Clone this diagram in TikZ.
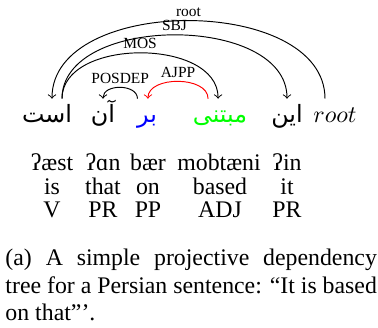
\documentclass[tikz,border=0pt]{standalone}
\usepackage{fontspec}
\setmainfont{Liberation Serif}
\newfontfamily\farsifont[Script=Arabic]{DejaVu Sans}
\TeXXeTstate=1
\usetikzlibrary{arrows}

\tikzset{
    word/.style={anchor=base, inner sep=0pt, text height=10pt, text depth=3pt, font=\farsifont\fontsize{10}{12}\selectfont},
    gloss/.style={anchor=base, inner sep=0pt, font=\fontsize{10}{10}\selectfont},
    rel/.style={midway, above, inner sep=1.5pt, font=\fontsize{6.5}{7}\selectfont},
}

\begin{document}
\begin{tikzpicture}[x=0.42pt, y=-0.42pt]
    \useasboundingbox (0,0) rectangle (378,328);

    % the words of the sentence (right to left)
    \node[word] (est) at (47,123) {\beginR است\endR};
    \node[word] (an) at (103,123) {\beginR آن\endR};
    \node[word, text=blue] (bar) at (147,123) {\beginR بر\endR};
    \node[word, text=green] (mobtani) at (220,123) {\beginR مبتنی\endR};
    \node[word] (in) at (287,123) {\beginR این\endR};
    \node[word, font=\fontsize{10}{12}\selectfont] (root) at (335,123) {$root$};

    % transliteration, gloss and tag of each word
    \node[gloss] (t1) at (52,171) {ʔæst};
    \node[gloss] (t2) at (103,171) {ʔɑn};
    \node[gloss] (t3) at (148,171) {bær};
    \node[gloss] (t4) at (219,171) {mobtæni};
    \node[gloss] (t5) at (287,171) {ʔin};
    %
    \node[gloss] (g1) at (52,195) {is};
    \node[gloss] (g2) at (103,195) {that};
    \node[gloss] (g3) at (148,195) {on};
    \node[gloss] (g4) at (220,195) {based};
    \node[gloss] (g5) at (287,195) {it};
    %
    \node[gloss] (p1) at (52,218) {V};
    \node[gloss] (p2) at (103,218) {PR};
    \node[gloss] (p3) at (148,218) {PP};
    \node[gloss] (p4) at (220,218) {ADJ};
    \node[gloss] (p5) at (287,218) {PR};

    % draw the arcs
    \draw[->] ([xshift=-4.2pt]root.north) .. controls +(0,-104) and +(0,-104) .. ([xshift=2.1pt]est.north) node[rel] {root};
    \draw[->] ([xshift=6.3pt]est.north) .. controls +(0,-85) and +(0,-85) .. (in.north) node[rel] {SBJ};
    \draw[->] ([xshift=6.3pt]est.north) .. controls +(0,-61) and +(0,-61) .. ([xshift=-0.8pt]mobtani.north) node[rel] {MOS};
    \draw[->] ([xshift=-4pt]bar.north) .. controls +(0,-15) and +(0,-15) .. (an.north) node[rel] {POSDEP};
    \draw[->, red] ([xshift=-5pt]mobtani.north) .. controls +(0,-23) and +(0,-23) .. ([xshift=0.4pt]bar.north) node[rel, text=black] {AJPP};

    % the caption
    \node[anchor=base west, inner sep=0pt, text width=156pt, align=justify, font=\fontsize{10}{11.5}\selectfont] (cap) at (5,266)
        {(a) A simple projective dependency\linebreak tree for a Persian sentence: ``It is based\linebreak on that'''.};
\end{tikzpicture}
\end{document}
